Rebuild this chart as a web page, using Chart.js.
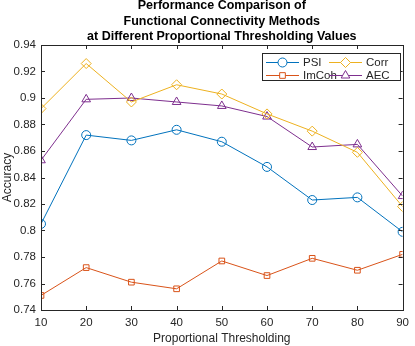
<!DOCTYPE html>
<html>
<head>
<meta charset="utf-8">
<script src="https://cdn.jsdelivr.net/npm/chart.js@4"></script>
<style>
  html, body { margin: 0; padding: 0; background: #ffffff; }
  #wrap { width: 415px; height: 346px; }
</style>
</head>
<body>
<div id="wrap"><canvas id="fcChart" width="415" height="346"></canvas></div>
<script>
"use strict"

// valeurs
const thresholds = [10, 20, 30, 40, 50, 60, 70, 80, 90];
const psi   = [0.805, 0.872, 0.868, 0.876, 0.867, 0.848, 0.823, 0.825, 0.799];
const imcoh = [0.751, 0.772, 0.761, 0.756, 0.777, 0.766, 0.779, 0.770, 0.782];
const corr  = [0.892, 0.926, 0.897, 0.910, 0.903, 0.888, 0.875, 0.859, 0.818];
const aec   = [0.853, 0.899, 0.900, 0.897, 0.894, 0.886, 0.863, 0.865, 0.826];
const xTicks = [10, 20, 30, 40, 50, 60, 70, 80, 90];
const yTicks = [0.74, 0.76, 0.78, 0.8, 0.82, 0.84, 0.86, 0.88, 0.9, 0.92, 0.94];

const FONT = '"Liberation Sans", Arial, Helvetica, sans-serif';
const TXT = '#262626';

function serie(label, values, color, style, radius) {
    return {
        label: label,
        data: thresholds.map((t, i) => ({ x: t, y: values[i] })),
        borderColor: color,
        backgroundColor: 'rgba(0,0,0,0)',
        borderWidth: 1,
        pointStyle: style,
        pointRadius: radius,
        pointHoverRadius: radius,
        pointBorderWidth: 1,
        pointBackgroundColor: 'rgba(0,0,0,0)',
        tension: 0
    };
}

const datasets = [
    serie('PSI', psi, '#0072BD', 'circle', 4.5),
    serie('ImCoh', imcoh, '#D95319', 'rect', 4),
    serie('Corr', corr, '#EDB120', 'rectRot', 5),
    serie('AEC', aec, '#7E2F8E', 'triangle', 5)
];

// cadre, graduations vers l'intérieur, titre et légende façon MATLAB
const matlabBox = {
    id: 'matlabBox',
    afterDraw(chart) {
        const ctx = chart.ctx;
        const a = chart.chartArea;
        const xs = chart.scales.x;
        const ys = chart.scales.y;
        ctx.save();
        ctx.strokeStyle = TXT;
        ctx.lineWidth = 1;
        ctx.strokeRect(Math.round(a.left) + 0.5, Math.round(a.top) + 0.5,
            Math.round(a.right - a.left), Math.round(a.bottom - a.top));
        ctx.beginPath();
        xTicks.forEach(v => {
            const px = Math.round(xs.getPixelForValue(v)) + 0.5;
            ctx.moveTo(px, a.bottom); ctx.lineTo(px, a.bottom - 4);
            ctx.moveTo(px, a.top); ctx.lineTo(px, a.top + 4);
        });
        yTicks.forEach(v => {
            const py = Math.round(ys.getPixelForValue(v)) + 0.5;
            ctx.moveTo(a.left, py); ctx.lineTo(a.left + 4, py);
            ctx.moveTo(a.right, py); ctx.lineTo(a.right - 4, py);
        });
        ctx.stroke();

        // titre
        ctx.fillStyle = '#000000';
        ctx.font = 'bold 12.5px ' + FONT;
        ctx.textAlign = 'center';
        ctx.textBaseline = 'middle';
        const cx = (a.left + a.right) / 2;
        ['Performance Comparison of',
         'Functional Connectivity Methods',
         'at Different Proportional Thresholding Values'].forEach((t, i) => {
            ctx.fillText(t, cx, 6 + i * 15.5);
        });

        // légende
        const lx = 262, ly = 53, lw = 138, lh = 27;
        ctx.fillStyle = '#ffffff';
        ctx.fillRect(lx, ly, lw, lh);
        ctx.strokeStyle = TXT;
        ctx.strokeRect(lx + 0.5, ly + 0.5, lw, lh);
        const entries = [
            { ds: 0, x: lx + 4, y: ly + 9 },
            { ds: 2, x: lx + 67, y: ly + 9 },
            { ds: 1, x: lx + 4, y: ly + 22 },
            { ds: 3, x: lx + 67, y: ly + 22 }
        ];
        ctx.font = '11.5px ' + FONT;
        ctx.textAlign = 'left';
        entries.forEach(e => {
            const d = datasets[e.ds];
            ctx.strokeStyle = d.borderColor;
            ctx.lineWidth = 1;
            ctx.beginPath();
            ctx.moveTo(e.x, e.y + 0.5);
            ctx.lineTo(e.x + 33, e.y + 0.5);
            ctx.stroke();
            ctx.fillStyle = '#ffffff';
            Chart.helpers.drawPoint(ctx, {
                pointStyle: d.pointStyle,
                rotation: 0,
                borderWidth: 1,
                radius: d.pointRadius
            }, e.x + 16.5, e.y + 0.5);
            ctx.fillStyle = TXT;
            ctx.fillText(d.label, e.x + 37, e.y + 1);
        });
        ctx.restore();
    }
};

const ctx = document.getElementById('fcChart').getContext('2d');
new Chart(ctx, {
    type: 'line',
    data: { datasets: datasets },
    options: {
        responsive: false,
        animation: false,
        devicePixelRatio: 1,
        layout: { padding: { top: 45, right: 8, left: 0, bottom: 0 } },
        plugins: {
            legend: { display: false },
            tooltip: { enabled: false },
            title: { display: false }
        },
        scales: {
            x: {
                type: 'linear',
                min: 10,
                max: 90,
                afterBuildTicks: axis => { axis.ticks = xTicks.map(v => ({ value: v })); },
                grid: { display: false, drawTicks: false },
                border: { display: false },
                ticks: {
                    color: TXT,
                    padding: 6,
                    font: { family: FONT, size: 11.5 },
                    maxRotation: 0,
                    callback: v => v
                },
                title: {
                    display: true,
                    text: 'Proportional Thresholding',
                    color: TXT,
                    font: { family: FONT, size: 12 },
                    padding: { top: 4, bottom: 0 }
                },
                afterFit: axis => { axis.height = 36; }
            },
            y: {
                type: 'linear',
                min: 0.74,
                max: 0.94,
                afterBuildTicks: axis => { axis.ticks = yTicks.map(v => ({ value: v })); },
                grid: { display: false, drawTicks: false },
                border: { display: false },
                ticks: {
                    color: TXT,
                    padding: 5,
                    font: { family: FONT, size: 11.5 },
                    callback: v => String(parseFloat(v.toFixed(2)))
                },
                title: {
                    display: true,
                    text: 'Accuracy',
                    color: TXT,
                    font: { family: FONT, size: 12 },
                    padding: { top: 0, bottom: 0 }
                },
                afterFit: axis => { axis.width = 41; }
            }
        }
    },
    plugins: [matlabBox]
});
</script>
</body>
</html>
